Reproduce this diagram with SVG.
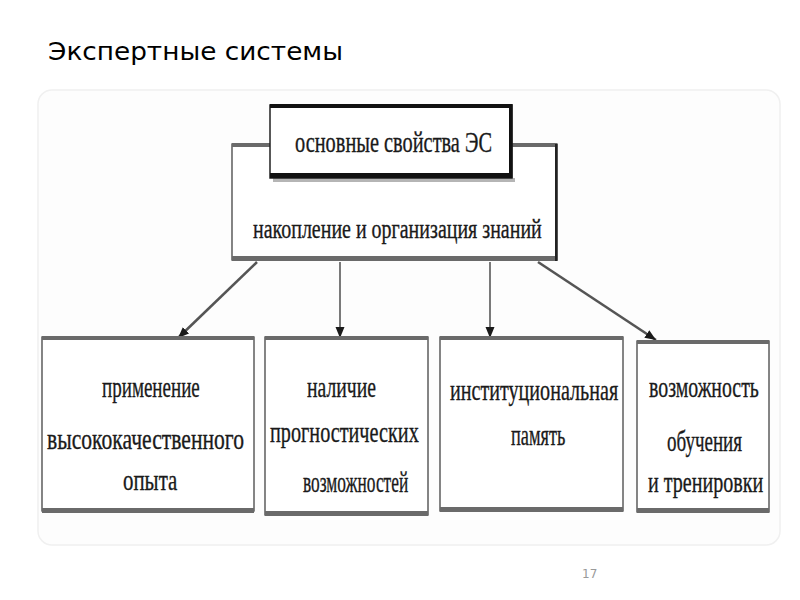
<svg xmlns="http://www.w3.org/2000/svg" width="800" height="600" viewBox="0 0 800 600">
<style>
.t{font-family:"Liberation Serif","Times New Roman",serif;fill:#1a1a1a;stroke:#1a1a1a;stroke-width:0.35}
.b{font-size:30px}
.box{fill:#fff;stroke:#444;stroke-width:1.3}
.bar{fill:#6a6a6a}
.ln{stroke:#222;stroke-width:1.2;fill:none}
.dg{stroke:#555;stroke-width:2.6;fill:none}
</style>
<defs>
<marker id="ah" markerUnits="userSpaceOnUse" markerWidth="11" markerHeight="11" viewBox="0 0 11 11" refX="11" refY="5.5" orient="auto">
<path d="M0,1 L11,5.5 L0,10 Z" fill="#1a1a1a"/>
</marker>
</defs>
<rect width="800" height="600" fill="#fff"/>
<rect x="38" y="90" width="742" height="455" rx="14" fill="#fdfdfd" stroke="#f0f0f0" stroke-width="1.5"/>
<text x="48" y="60" font-family="DejaVu Sans, sans-serif" font-size="25" fill="#000" textLength="295" lengthAdjust="spacingAndGlyphs">Экспертные системы</text>

<g id="connectors">
<line class="ln" x1="340" y1="262" x2="340" y2="338" marker-end="url(#ah)"/>
<line class="ln" x1="490" y1="262" x2="490" y2="338" marker-end="url(#ah)"/>
<line class="dg" x1="257" y1="262" x2="178" y2="338" marker-end="url(#ah)"/>
<line class="dg" x1="538" y1="262" x2="656" y2="340" marker-end="url(#ah)"/>
</g>

<g id="main">
<rect class="box" x="232" y="144" width="325" height="116"/>
<rect class="bar" x="232" y="143" width="325" height="4"/>
<rect class="bar" x="232" y="256" width="325" height="5"/>
<rect x="555" y="144" width="2.5" height="117" fill="#222"/>
<text class="t" transform="translate(253,238) scale(0.67,1)" font-size="28" textLength="431" lengthAdjust="spacingAndGlyphs">накопление и организация знаний</text>
</g>

<g id="top">
<rect x="273" y="178" width="242" height="4" fill="#b5b5b5"/>
<rect x="270" y="105" width="242" height="73" fill="#fff" stroke="#222" stroke-width="1.5"/>
<rect x="270" y="104" width="242" height="4" fill="#111"/>
<rect x="270" y="173" width="242" height="5" fill="#111"/>
<rect x="509" y="104" width="3.5" height="74" fill="#111"/>
<text class="t" transform="translate(295,152) scale(0.67,1)" font-size="30" textLength="294" lengthAdjust="spacingAndGlyphs">основные свойства ЭС</text>
</g>

<g id="n1">
<rect class="box" x="42" y="337" width="212" height="174"/>
<rect class="bar" x="42" y="336" width="212" height="4"/>
<rect class="bar" x="42" y="508" width="212" height="5"/>
<text class="t b" transform="translate(102,397) scale(0.67,1)" textLength="146" lengthAdjust="spacingAndGlyphs">применение</text>
<text class="t b" transform="translate(47,449) scale(0.67,1)" textLength="294" lengthAdjust="spacingAndGlyphs">высококачественного</text>
<text class="t b" transform="translate(123,490) scale(0.67,1)" textLength="81" lengthAdjust="spacingAndGlyphs">опыта</text>
</g>

<g id="n2">
<rect class="box" x="265" y="337" width="163" height="178"/>
<rect class="bar" x="265" y="336" width="163" height="4"/>
<rect class="bar" x="265" y="511" width="163" height="5"/>
<text class="t b" transform="translate(307,397) scale(0.67,1)" textLength="103" lengthAdjust="spacingAndGlyphs">наличие</text>
<text class="t b" transform="translate(270,442) scale(0.67,1)" textLength="222" lengthAdjust="spacingAndGlyphs">прогностических</text>
<text class="t b" transform="translate(303,492) scale(0.67,1)" textLength="157" lengthAdjust="spacingAndGlyphs">возможностей</text>
</g>

<g id="n3">
<rect class="box" x="440" y="337" width="183" height="174"/>
<rect class="bar" x="440" y="336" width="183" height="4"/>
<rect class="bar" x="440" y="507" width="183" height="5"/>
<text class="t b" transform="translate(450,400) scale(0.67,1)" textLength="251" lengthAdjust="spacingAndGlyphs">институциональная</text>
<text class="t b" transform="translate(511,445) scale(0.67,1)" textLength="81" lengthAdjust="spacingAndGlyphs">память</text>
</g>

<g id="n4">
<rect class="box" x="637" y="341" width="132" height="171"/>
<rect class="bar" x="637" y="340" width="132" height="4"/>
<rect class="bar" x="637" y="508" width="132" height="5"/>
<text class="t b" transform="translate(649,397) scale(0.67,1)" textLength="164" lengthAdjust="spacingAndGlyphs">возможность</text>
<text class="t b" transform="translate(667,451) scale(0.67,1)" textLength="112" lengthAdjust="spacingAndGlyphs">обучения</text>
<text class="t b" transform="translate(648,492) scale(0.67,1)" textLength="172" lengthAdjust="spacingAndGlyphs">и тренировки</text>
</g>

<text x="582" y="578" font-family="DejaVu Sans, sans-serif" font-size="12" fill="#9a9a9a">17</text>
</svg>
